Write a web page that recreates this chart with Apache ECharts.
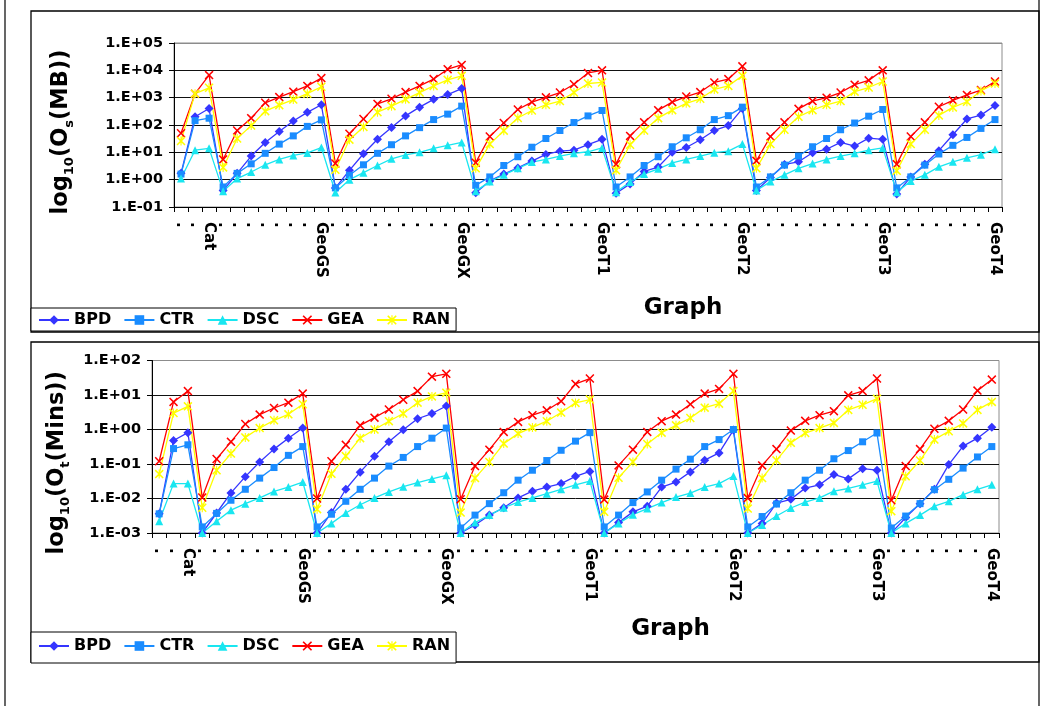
<!DOCTYPE html>
<html>
<head>
<meta charset="utf-8">
<script src="https://cdn.jsdelivr.net/npm/echarts@6/dist/echarts.min.js"></script>
<style>
html,body{margin:0;padding:0;background:#fff;}
#chart{width:1050px;height:706px;}
</style>
</head>
<body>
<div id="chart"></div>
<script>
// ---- categories ----
var groupNames = ['Cat', 'GeoGS', 'GeoGX', 'GeoT1', 'GeoT2', 'GeoT3', 'GeoT4'];
var groupSizes = [3, 8, 10, 10, 10, 10, 8];
var seriesNames = ['BPD', 'CTR', 'DSC', 'GEA', 'RAN'];
var yTicksTop = ['1.E-01', '1.E+00', '1.E+01', '1.E+02', '1.E+03', '1.E+04', '1.E+05'];
var yTicksBottom = ['1.E-03', '1.E-02', '1.E-01', '1.E+00', '1.E+01', '1.E+02'];

// ---- top panel: Os (MB) ----
var osBPD = [1.7,200,400, 0.4,1.7,7.3,23,58,140,290,550, 0.5,2.2,8.9,30,81,215,450,870,1300,2150,
  0.33,0.9,1.6,2.7,4.8,8.4,11,12,19,30, 0.32,0.7,2.0,2.9,10,15,29,63,95,400,
  0.4,1.2,3.6,4.5,9.7,13,23,17,33,30, 0.3,1.26,3.7,11.5,44,166,230,520];
var osCTR = [1.6,145,177, 0.54,1.7,3.8,9.2,20,40,89,154, 0.5,1.45,3.5,9.2,19,40,80,158,250,490,
  0.62,1.26,3.3,6.9,15.4,32,63,123,215,340, 0.54,1.26,3.3,6.9,16,34,67,158,220,450,
  0.54,1.26,3.4,7.3,16,32,67,118,210,370, 0.5,1.26,3.4,8.7,18,35,75,158];
var osDSC = [1.1,12,14, 0.38,1.1,1.9,3.5,5.5,7.7,9.5,15, 0.34,1.0,1.8,3.3,5.8,8,10,14,18,23,
  0.38,0.85,1.5,2.6,4.4,5.5,7.3,9.2,10.5,14.5, 0.35,0.82,1.6,2.5,4.1,5.5,7.3,9.7,11,20,
  0.4,0.85,1.5,2.6,3.9,5.5,7.3,9.2,12,14.5, 0.35,0.9,1.5,2.95,4.5,6.3,8.2,13];
var osGEA = [50,1400,6700, 5.5,63,178,650,1050,1660,2700,5200, 3.9,48,166,590,910,1600,2700,4800,11000,15800,
  4.2,38,118,370,690,1030,1540,3100,8000,10000, 3.7,40,125,350,690,1100,1600,3600,4800,14000,
  4.9,38,125,390,750,1000,1540,3000,4300,10000, 3.7,38,125,465,800,1260,1900,3900];
var osRAN = [26,1400,2300, 2.8,32,95,320,530,850,1400,2500, 2.3,29,85,295,490,870,1540,2700,4500,6300,
  2.6,20,62,180,340,550,750,1540,3300,3600, 2.2,19,63,178,350,620,910,2000,2700,6300,
  2.6,20,67,200,350,550,750,1660,2350,3900, 2.1,20,67,224,440,710,1750,3300];

// ---- bottom panel: Ot (Mins) ----
var otBPD = [0.0036,0.48,0.81, 0.001,0.0038,0.0145,0.043,0.114,0.27,0.56,1.1,
  0.001,0.0039,0.0185,0.058,0.167,0.44,0.98,2.05,2.9,4.8,
  0.001,0.0017,0.0033,0.0054,0.0104,0.0163,0.0215,0.027,0.044,0.061,
  0.001,0.002,0.0041,0.006,0.0215,0.03,0.059,0.129,0.21,0.96,
  0.001,0.0019,0.0074,0.0095,0.020,0.025,0.050,0.037,0.073,0.066,
  0.001,0.0028,0.0071,0.0185,0.096,0.33,0.56,1.17];
var otCTR = [0.0036,0.28,0.36, 0.0015,0.0037,0.0089,0.0185,0.039,0.079,0.178,0.32,
  0.0015,0.0035,0.0083,0.0185,0.039,0.087,0.155,0.32,0.56,1.1,
  0.0014,0.0033,0.0071,0.0147,0.034,0.066,0.126,0.25,0.46,0.81,
  0.0015,0.0033,0.0076,0.0155,0.034,0.071,0.138,0.32,0.51,1.0,
  0.0015,0.003,0.0069,0.0147,0.034,0.066,0.142,0.245,0.44,0.79,
  0.0014,0.0031,0.0071,0.018,0.036,0.076,0.16,0.32];
var otDSC = [0.0022,0.027,0.027, 0.001,0.0022,0.0046,0.0071,0.0104,0.016,0.0215,0.03,
  0.001,0.0019,0.0038,0.0066,0.0104,0.0155,0.022,0.029,0.037,0.047,
  0.001,0.002,0.0033,0.0054,0.0079,0.0104,0.0138,0.0185,0.025,0.032,
  0.001,0.0019,0.0034,0.0051,0.0076,0.011,0.0144,0.0215,0.027,0.045,
  0.001,0.0017,0.0031,0.0053,0.0079,0.0104,0.0163,0.0195,0.025,0.032,
  0.001,0.0019,0.0033,0.006,0.0083,0.0129,0.0185,0.025];
var otGEA = [0.12,6.3,13, 0.0107,0.14,0.44,1.44,2.7,4.2,6.0,11,
  0.0100,0.12,0.36,1.32,2.2,3.8,7.3,13,34,41,
  0.0095,0.087,0.26,0.85,1.66,2.6,3.6,6.6,21,30,
  0.0093,0.091,0.26,0.85,1.74,2.7,5.4,11,15,41,
  0.0103,0.091,0.27,0.93,1.78,2.6,3.4,9.8,13,30,
  0.0089,0.087,0.27,1.05,1.78,3.8,13.4,28];
var otRAN = [0.051,3.0,4.7, 0.0054,0.066,0.2,0.59,1.1,1.85,2.75,5.4,
  0.0049,0.052,0.17,0.56,1.0,1.74,2.9,6.0,9.1,11.7,
  0.0039,0.039,0.115,0.39,0.76,1.15,1.74,3.1,5.9,7.4,
  0.0041,0.04,0.115,0.38,0.81,1.32,2.15,4.3,5.6,13,
  0.0051,0.039,0.128,0.41,0.79,1.1,1.55,3.7,5.2,7.8,
  0.0043,0.044,0.126,0.51,0.89,1.5,3.7,6.3];

// build category ids and visible labels
var categories = [];
var catLabel = {};
groupNames.forEach(function (g, gi) {
  for (var k = 0; k < groupSizes[gi]; k++) {
    var id = g + '#' + k;
    categories.push(id);
    catLabel[id] = (k === groupSizes[gi] - 1) ? g : '.';
  }
});

var FONT = 'DejaVu Sans';
var colors = {
  BPD: '#3535ff',
  CTR: '#1a8cff',
  DSC: '#19e6f0',
  GEA: '#ff0000',
  RAN: '#ffff00'
};
var XPATH = 'path://M0,1.2 L1.2,0 L5,3.8 L8.8,0 L10,1.2 L6.2,5 L10,8.8 L8.8,10 L5,6.2 L1.2,10 L0,8.8 L3.8,5 Z';
var STARPATH = 'path://M0,1.2 L1.2,0 L5,3.8 L8.8,0 L10,1.2 L6.2,5 L10,8.8 L8.8,10 L5,6.2 L1.2,10 L0,8.8 L3.8,5 Z M4.4,0 L5.6,0 L5.6,10 L4.4,10 Z';
var symbols = {
  BPD: ['diamond', 9],
  CTR: ['rect', 7],
  DSC: ['triangle', 8],
  GEA: [XPATH, 9],
  RAN: [STARPATH, 9]
};

function expLabel(v) {
  var e = Math.round(Math.log10(v));
  var s = e < 0 ? '-' : '+';
  var a = Math.abs(e);
  return '1.E' + s + (a < 10 ? '0' : '') + a;
}

function makeSeries(name, data, idx) {
  return {
    name: name,
    type: 'line',
    xAxisIndex: idx,
    yAxisIndex: idx,
    data: data,
    symbol: symbols[name][0],
    symbolSize: symbols[name][1],
    showSymbol: true,
    showAllSymbol: true,
    lineStyle: { color: colors[name], width: 1.3 },
    itemStyle: { color: colors[name] },
    emphasis: { disabled: true }
  };
}

function xAxisCfg(idx, gap) {
  return {
    type: 'category',
    gridIndex: idx,
    data: categories,
    boundaryGap: true,
    axisLine: { show: true, lineStyle: { color: '#000', width: 1 } },
    axisTick: { show: true, interval: 0, length: 5, lineStyle: { color: '#000' } },
    axisLabel: {
      interval: 0, rotate: -90, margin: 15,
      fontFamily: FONT, fontWeight: 'bold', fontSize: 15, color: '#000',
      formatter: function (v) { return catLabel[v]; }
    },
    splitLine: { show: false },
    name: 'Graph',
    nameLocation: 'middle',
    nameGap: gap,
    nameTextStyle: { fontFamily: FONT, fontWeight: 'bold', fontSize: 23, color: '#000', padding: [0, 0, 0, 190] }
  };
}

function yAxisCfg(idx, min, max, nameRich, gap, nLines, shiftPad) {
  var lc = [];
  for (var i = 0; i < nLines - 1; i++) lc.push('#111');
  lc.push('#8c8c8c');
  return {
    type: 'log',
    logBase: 10,
    gridIndex: idx,
    min: min, max: max, interval: 1,
    axisLine: { show: true, lineStyle: { color: '#000', width: 1 } },
    axisTick: { show: true, length: 5, lineStyle: { color: '#000' } },
    axisLabel: { margin: 11, fontFamily: FONT, fontWeight: 'bold', fontSize: 14.5, color: '#000', formatter: expLabel },
    splitLine: { show: true, lineStyle: { color: lc, width: 1 } },
    name: nameRich,
    nameLocation: 'middle',
    nameRotate: 90,
    nameGap: gap,
    nameTextStyle: {
      color: '#000',
      padding: [0, shiftPad, 0, 0],
      rich: {
        a: { fontFamily: FONT, fontWeight: 'bold', fontSize: 22.5, lineHeight: 30, color: '#000' },
        s: { fontFamily: FONT, fontWeight: 'bold', fontSize: 13, lineHeight: 13, verticalAlign: 'bottom', color: '#000' }
      }
    }
  };
}

function legendCfg(top, pad) {
  return {
    data: seriesNames,
    left: 31, top: top,
    orient: 'horizontal',
    itemWidth: 30, itemHeight: 12, itemGap: 12.2,
    padding: pad,
    borderColor: '#000', borderWidth: 1,
    backgroundColor: '#fff',
    textStyle: { fontFamily: FONT, fontWeight: 'bold', fontSize: 16, color: '#000' },
    selectedMode: false
  };
}

var series = [];
[osBPD, osCTR, osDSC, osGEA, osRAN].forEach(function (d, i) { series.push(makeSeries(seriesNames[i], d, 0)); });
[otBPD, otCTR, otDSC, otGEA, otRAN].forEach(function (d, i) { series.push(makeSeries(seriesNames[i], d, 1)); });

var chart = echarts.init(document.getElementById('chart'), null, { renderer: 'canvas' });
chart.setOption({
  animation: false,
  backgroundColor: '#fff',
  grid: [
    { left: 174, top: 43, width: 828, height: 164, containLabel: false, show: true, borderColor: '#8c8c8c', borderWidth: 1 },
    { left: 152, top: 360.5, width: 847, height: 172.5, containLabel: false, show: true, borderColor: '#8c8c8c', borderWidth: 1 }
  ],
  legend: [legendCfg(308, [4, 6, 3, 7]), legendCfg(632, [6, 6, 9, 7])],
  xAxis: [xAxisCfg(0, 90), xAxisCfg(1, 85)],
  yAxis: [
    yAxisCfg(0, 0.1, 100000, '{a|log}{s|10}{a|(O}{s|s}{a|(MB))}', 98, 7, 14),
    yAxisCfg(1, 0.001, 100, '{a|log}{s|10}{a|(O}{s|t}{a|(Mins))}', 80, 6, 32)
  ],
  graphic: [
    { type: 'line', shape: { x1: 5, y1: 0, x2: 5, y2: 706 }, style: { stroke: '#000', lineWidth: 1.2 }, z: -1 },
    { type: 'line', shape: { x1: 1039, y1: 0, x2: 1039, y2: 706 }, style: { stroke: '#000', lineWidth: 1.2 }, z: -1 },
    { type: 'rect', shape: { x: 31, y: 11, width: 1008, height: 321 }, style: { fill: 'none', stroke: '#000', lineWidth: 1.3 }, z: -1 },
    { type: 'rect', shape: { x: 31, y: 342, width: 1008, height: 320 }, style: { fill: 'none', stroke: '#000', lineWidth: 1.3 }, z: -1 }
  ],
  series: series
});
</script>
</body>
</html>
